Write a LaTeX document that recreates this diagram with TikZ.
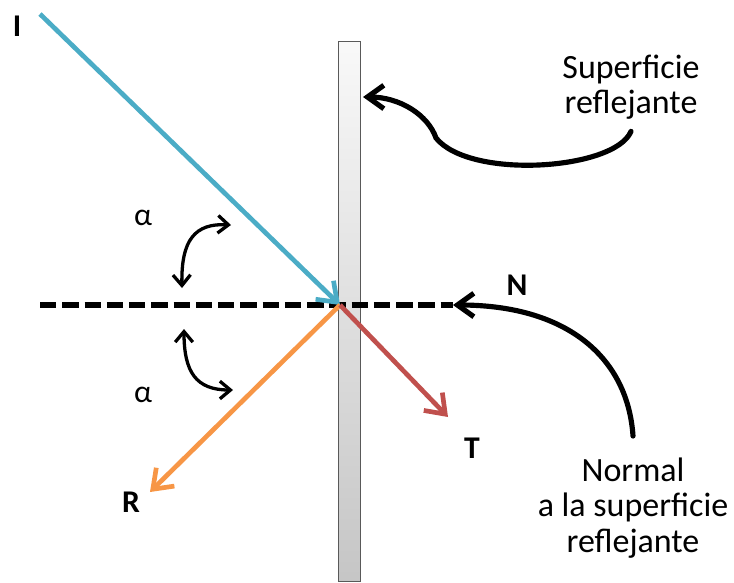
\documentclass[tikz,border=0pt]{standalone}
\usepackage{fontspec}
\setmainfont{Carlito}
\usetikzlibrary{arrows.meta}
\definecolor{rayblue}{RGB}{75,172,198}
\definecolor{rayorange}{RGB}{247,150,70}
\definecolor{rayred}{RGB}{192,80,77}
\begin{document}
\begin{tikzpicture}[x=0.03cm,y=-0.03cm,ray/.style={line width=4pt, -{Straight Barb[length=15pt,width=22pt]}},pointer/.style={line width=4.4pt, line cap=round, -{Straight Barb[length=14pt,width=20pt]}},anglearrow/.style={line width=2.8pt, {Straight Barb[length=9pt,width=15pt]}-{Straight Barb[length=9pt,width=15pt]}},normalline/.style={line width=4.6pt, dash pattern=on 14pt off 5pt},mirrorbar/.style={draw=gray!70!black, line width=0.8pt, top color=gray!5, bottom color=gray!45},letter/.style={font=\fontsize{27}{30}\selectfont\bfseries},greek/.style={font=\fontsize{27}{30}\selectfont},note/.style={align=center, font=\fontsize{29}{30}\selectfont}]
\useasboundingbox (0,0) rectangle (734,582);
\path[mirrorbar] (338,41) rectangle (360,581);
\coordinate (O) at (340,305); \coordinate (Istart) at (40,14); \coordinate (Rend) at (150,492); \coordinate (Tend) at (448,417);
\coordinate (Nstart) at (40,305); \coordinate (Nend) at (453,305); \coordinate (S) at (363,97);
\draw[normalline] (Nstart) -- (Nend);
\draw[ray, rayblue] (Istart) -- (O); \draw[ray, rayorange] (O) -- (Rend); \draw[ray, rayred] (O) -- (Tend);
\node[letter] (labI) at (17,26) {I}; \node[letter] (labR) at (131,502) {R}; \node[letter] (labT) at (472,448) {T}; \node[letter] (labN) at (517,285) {N};
\node[greek] (alphaup) at (143,218) {α}; \node[greek] (alphadown) at (143,395) {α};
\coordinate (upA) at (182,288); \coordinate (upB) at (231,225); \coordinate (downA) at (184,329); \coordinate (downB) at (233,390);
\draw[anglearrow] (upA) .. controls (181,240) and (195,223) .. (upB);
\draw[anglearrow] (downA) .. controls (184,372) and (196,390) .. (downB);
\node[note] (sup) at (631,87) {Superficie\\reflejante}; \node[note] (nor) at (633,508) {Normal\\a la superficie\\reflejante};
\path (sup.south) ++(0,8) coordinate (supfoot); \path (nor.north) ++(0,-18) coordinate (norfoot);
\draw[pointer] (supfoot) .. controls (615,170) and (470,180) .. (436,138) .. controls (428,115) and (400,97) .. (S);
\draw[pointer] (norfoot) .. controls (628,360) and (570,305) .. (Nend);
\end{tikzpicture}
\end{document}
